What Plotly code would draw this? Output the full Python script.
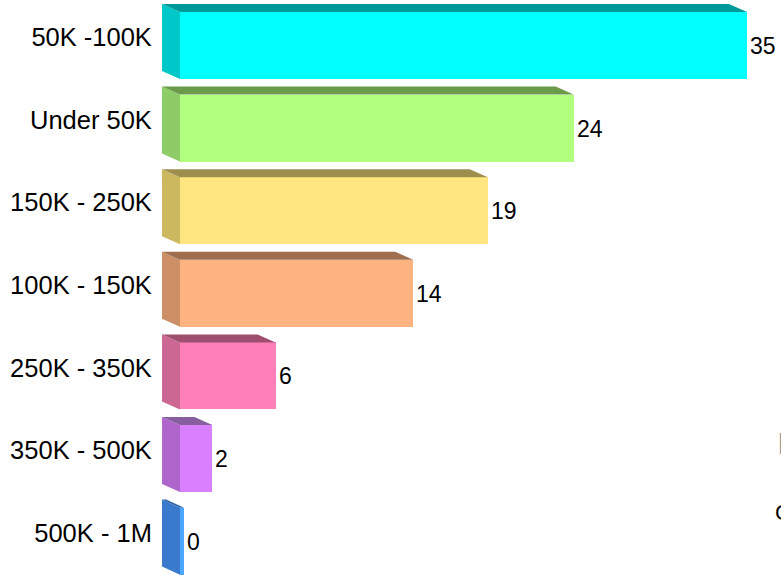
import plotly.graph_objects as go

# income brackets, top to bottom
categories = ["50K -100K", "Under 50K", "150K - 250K", "100K - 150K",
              "250K - 350K", "350K - 500K", "500K - 1M"]
values = [35, 24.3, 19, 14.4, 5.9, 2.0, 0.25]

front_colors = ["#00FFFF", "#B2FF80", "#FFE680", "#FFB380", "#FF80B8", "#D980FF", "#4DA6FF"]
side_colors = ["#00C8C8", "#8DCC66", "#CCB85E", "#CC8F66", "#CC6693", "#AE66CC", "#3A7ACC"]
top_colors = ["#009999", "#6B9A4A", "#9E8E4E", "#9E6E4E", "#9E4E6E", "#875E9E", "#2E62A8"]

# depth of the fake 3D box (in axis units)
dx = 1.11
dy = 0.097
h = 0.811

fig = go.Figure()

for i, (v, fc, sc, tc) in enumerate(zip(values, front_colors, side_colors, top_colors)):
    top = i - h / 2
    bot = i + h / 2
    # left side face
    fig.add_trace(go.Scatter(
        x=[0, -dx, -dx, 0, 0], y=[top, top - dy, bot - dy, bot, top],
        fill="toself", fillcolor=sc, mode="lines", line=dict(width=0),
        hoverinfo="skip", showlegend=False))
    # top face
    fig.add_trace(go.Scatter(
        x=[0, -dx, v - dx, v, 0], y=[top, top - dy, top - dy, top, top],
        fill="toself", fillcolor=tc, mode="lines", line=dict(width=0),
        hoverinfo="skip", showlegend=False))

# front faces
fig.add_trace(go.Bar(
    x=values, y=list(range(len(categories))), orientation="h", width=h,
    marker=dict(color=front_colors, line=dict(width=0)),
    text=values, texttemplate="%{x:.0f}", textposition="outside",
    textfont=dict(family="Liberation Sans, Arial", size=23, color="#000000"),
    cliponaxis=False, showlegend=False))

fig.update_layout(
    width=781, height=575,
    margin=dict(l=160, r=0, t=0, b=0),
    paper_bgcolor="white", plot_bgcolor="white",
    font=dict(family="Liberation Sans, Arial", color="#000000"),
    bargap=0,
    xaxis=dict(range=[-1.235, 37.1], showgrid=False, zeroline=False,
               showticklabels=False, showline=False),
    yaxis=dict(range=[6.41, -0.551], showgrid=False, zeroline=False, showline=False,
               tickvals=[i - 0.1 for i in range(len(categories))],
               ticktext=categories, tickfont=dict(size=25.5),
               ticks="outside", ticklen=2, tickcolor="white"),
)

# legend text cut off at the right edge in the original
fig.add_annotation(text="C", xref="paper", yref="paper", x=1, xshift=-8, y=1 - 512 / 575,
                   xanchor="left", yanchor="middle", showarrow=False,
                   font=dict(size=22, color="#000000"))
fig.add_annotation(text="|", xref="paper", yref="paper", x=1, xshift=-5, y=1 - 441 / 575,
                   xanchor="left", yanchor="middle", showarrow=False,
                   font=dict(size=22, color="#999999"))

# drop the default page margin so the chart sits at the window's corner
fig.write_html("out.html", config={"displayModeBar": False},
               post_script="document.body.style.margin='0px';")
